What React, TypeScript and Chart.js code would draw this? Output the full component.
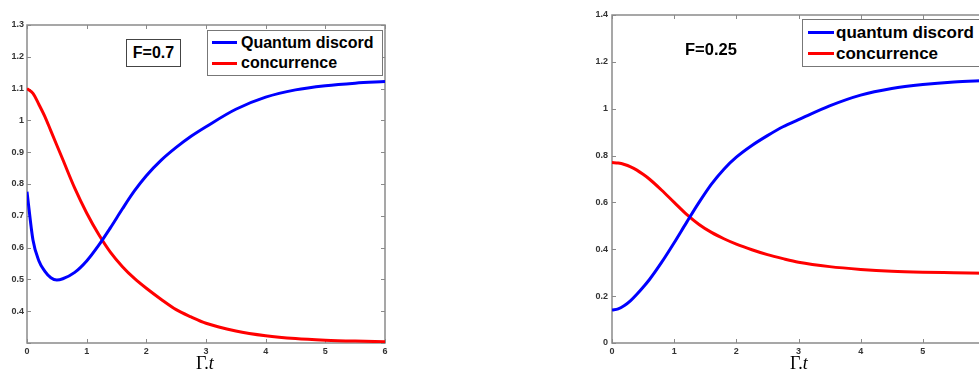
import React, { useEffect, useRef } from "react";
import { Chart, registerables } from "chart.js";

Chart.register(...registerables);

// ---------- data ----------
const tValues = [0, 0.1, 0.2, 0.3, 0.4, 0.5, 0.6, 0.8, 1.0, 1.2, 1.4, 1.6, 1.8, 2.0, 2.25, 2.5, 2.75, 3.0, 3.5, 4.0, 4.5, 5.0, 5.5, 6.0];

// Left panel (F=0.7)
const leftDiscord = [0.776, 0.624, 0.558, 0.525, 0.505, 0.498, 0.502, 0.522, 0.558, 0.607, 0.663, 0.722, 0.778, 0.826, 0.875, 0.915, 0.95, 0.98, 1.035, 1.073, 1.096, 1.109, 1.117, 1.122];
const leftConcurrence = [1.1, 1.085, 1.05, 1.012, 0.967, 0.922, 0.877, 0.787, 0.709, 0.642, 0.585, 0.54, 0.503, 0.472, 0.437, 0.405, 0.382, 0.362, 0.338, 0.323, 0.314, 0.309, 0.306, 0.304];

// Right panel (F=0.25)
const rightDiscord = [0.141, 0.146, 0.16, 0.181, 0.208, 0.238, 0.27, 0.345, 0.428, 0.515, 0.6, 0.678, 0.742, 0.793, 0.843, 0.885, 0.923, 0.953, 1.012, 1.058, 1.086, 1.103, 1.114, 1.12];
const rightConcurrence = [0.77, 0.768, 0.762, 0.752, 0.738, 0.72, 0.7, 0.652, 0.6, 0.549, 0.506, 0.472, 0.445, 0.422, 0.398, 0.377, 0.36, 0.345, 0.326, 0.314, 0.306, 0.302, 0.3, 0.298];

const xTicks = { min: 0, max: 6, step: 1 };
const leftYTicks = { min: 0.3, max: 1.3, step: 0.1, hidden: [0.3] };
const rightYTicks = { min: 0, max: 1.4, step: 0.2, hidden: [] as number[] };

const leftLabels = ["Quantum discord", "concurrence"];
const rightLabels = ["quantum discord", "concurrence"];

// ---------- helpers ----------
const fmt = (v: number) => String(Number(v.toFixed(2)));

const boxTicks = {
  id: "boxTicks",
  beforeDatasetsDraw(chart: any) {
    const { ctx, chartArea: a, scales } = chart;
    ctx.save();
    ctx.strokeStyle = "#8a8a8a";
    ctx.lineWidth = 1.5;
    ctx.strokeRect(a.left, a.top, a.right - a.left, a.bottom - a.top);
    const L = 4;
    ctx.lineWidth = 1;
    ctx.beginPath();
    scales.x.ticks.forEach((t: any) => {
      const px = Math.round(scales.x.getPixelForValue(t.value)) + 0.5;
      ctx.moveTo(px, a.bottom);
      ctx.lineTo(px, a.bottom - L);
      ctx.moveTo(px, a.top);
      ctx.lineTo(px, a.top + L);
    });
    scales.y.ticks.forEach((t: any) => {
      const py = Math.round(scales.y.getPixelForValue(t.value)) + 0.5;
      ctx.moveTo(a.left, py);
      ctx.lineTo(a.left + L, py);
      ctx.moveTo(a.right, py);
      ctx.lineTo(a.right - L, py);
    });
    ctx.stroke();
    ctx.restore();
  },
};

function makeConfig(
  discord: number[],
  conc: number[],
  labels: string[],
  yt: { min: number; max: number; step: number; hidden: number[] },
  pad: { top: number; right: number },
  yWidth: number,
  xHeight: number,
  yPad: number
): any {
  const tickFont = { family: "'Liberation Sans', Arial, sans-serif", size: 9, weight: "bold" as const };
  return {
    type: "line",
    data: {
      datasets: [
        {
          label: labels[0],
          data: tValues.map((t, i) => ({ x: t, y: discord[i] })),
          borderColor: "#0000ff",
          borderWidth: 3,
          pointRadius: 0,
          cubicInterpolationMode: "monotone",
          fill: false,
        },
        {
          label: labels[1],
          data: tValues.map((t, i) => ({ x: t, y: conc[i] })),
          borderColor: "#ff0000",
          borderWidth: 3,
          pointRadius: 0,
          cubicInterpolationMode: "monotone",
          fill: false,
        },
      ],
    },
    options: {
      responsive: false,
      animation: false,
      events: [],
      layout: { padding: { top: pad.top, right: pad.right, left: 0, bottom: 0 } },
      plugins: { legend: { display: false }, tooltip: { enabled: false }, title: { display: false } },
      scales: {
        x: {
          type: "linear",
          min: xTicks.min,
          max: xTicks.max,
          grid: { display: false, drawTicks: false },
          border: { display: false },
          ticks: { stepSize: xTicks.step, font: tickFont, color: "#333", padding: 3, maxRotation: 0, callback: (v: number) => fmt(v) },
          afterFit: (s: any) => {
            s.height = xHeight;
          },
        },
        y: {
          type: "linear",
          min: yt.min,
          max: yt.max,
          grid: { display: false, drawTicks: false },
          border: { display: false },
          ticks: {
            stepSize: yt.step,
            font: tickFont,
            color: "#333",
            padding: yPad,
            callback: (v: number) => (yt.hidden.some((h) => Math.abs(h - v) < 1e-6) ? "" : fmt(v)),
          },
          afterFit: (s: any) => {
            s.width = yWidth;
          },
        },
      },
    },
    plugins: [boxTicks],
  };
}

function ChartCanvas(props: { cfg: () => any; left: number; width: number; height: number }) {
  const ref = useRef<HTMLCanvasElement | null>(null);
  useEffect(() => {
    if (!ref.current) return;
    const chart = new Chart(ref.current, props.cfg());
    return () => chart.destroy();
  }, []);
  return (
    <canvas
      ref={ref}
      width={props.width}
      height={props.height}
      style={{ position: "absolute", left: props.left, top: 0, width: props.width, height: props.height }}
    />
  );
}

const sans = "'Liberation Sans', Arial, sans-serif";
const serif = "'Liberation Serif', 'Times New Roman', serif";

function LegendRow(p: { color: string; label: string; top: number; lineLeft: number; lineWidth: number; lineY: number; textLeft: number; size: number; lh: number }) {
  return (
    <>
      <div style={{ position: "absolute", left: p.lineLeft, top: p.lineY - 1.5, width: p.lineWidth, height: 3, background: p.color }} />
      <div style={{ position: "absolute", left: p.textLeft, top: p.top, font: `bold ${p.size}px ${sans}`, lineHeight: `${p.lh}px`, color: "#000", whiteSpace: "nowrap" }}>
        {p.label}
      </div>
    </>
  );
}

export default function App() {
  return (
    <div style={{ position: "fixed", left: 0, top: 0, width: 979, height: 371, overflow: "hidden", background: "#fff" }}>
      <ChartCanvas
        left={0}
        width={400}
        height={371}
        cfg={() => makeConfig(leftDiscord, leftConcurrence, leftLabels, leftYTicks, { top: 25, right: 15 }, 27, 28, 3)}
      />
      <ChartCanvas
        left={560}
        width={440}
        height={371}
        cfg={() => makeConfig(rightDiscord, rightConcurrence, rightLabels, rightYTicks, { top: 15, right: 15 }, 52, 28, 4)}
      />

      {/* Left panel annotations */}
      <div
        style={{
          position: "absolute",
          left: 126,
          top: 39,
          width: 53,
          height: 26,
          border: "1px solid #444",
          background: "#fff",
          font: `bold 16px ${sans}`,
          lineHeight: "26px",
          textAlign: "center",
          color: "#000",
        }}
      >
        F=0.7
      </div>
      <div style={{ position: "absolute", left: 207, top: 30, width: 174, height: 44, border: "1px solid #777", background: "#fff" }} />
      <LegendRow color="#0000ff" label={leftLabels[0]} top={32.5} lineLeft={212} lineWidth={25} lineY={42} textLeft={241} size={16} lh={20} />
      <LegendRow color="#ff0000" label={leftLabels[1]} top={52.5} lineLeft={212} lineWidth={25} lineY={63} textLeft={241} size={16} lh={20} />
      <div style={{ position: "absolute", left: 175, top: 353, width: 60, textAlign: "center", font: `18px ${serif}`, lineHeight: "20px", color: "#000" }}>
        Γ.<i>t</i>
      </div>

      {/* Right panel annotations */}
      <div style={{ position: "absolute", left: 685, top: 39.3, font: `bold 16.5px ${sans}`, lineHeight: "20px", color: "#000", whiteSpace: "nowrap" }}>F=0.25</div>
      <div style={{ position: "absolute", left: 802, top: 19, width: 200, height: 46, border: "1px solid #777", background: "#fff" }} />
      <LegendRow color="#0000ff" label={rightLabels[0]} top={21.6} lineLeft={808} lineWidth={26} lineY={32} textLeft={836} size={17} lh={21} />
      <LegendRow color="#ff0000" label={rightLabels[1]} top={42.6} lineLeft={808} lineWidth={26} lineY={53} textLeft={836} size={17} lh={21} />
      <div style={{ position: "absolute", left: 769, top: 353, width: 60, textAlign: "center", font: `18px ${serif}`, lineHeight: "20px", color: "#000" }}>
        Γ.<i>t</i>
      </div>
    </div>
  );
}
